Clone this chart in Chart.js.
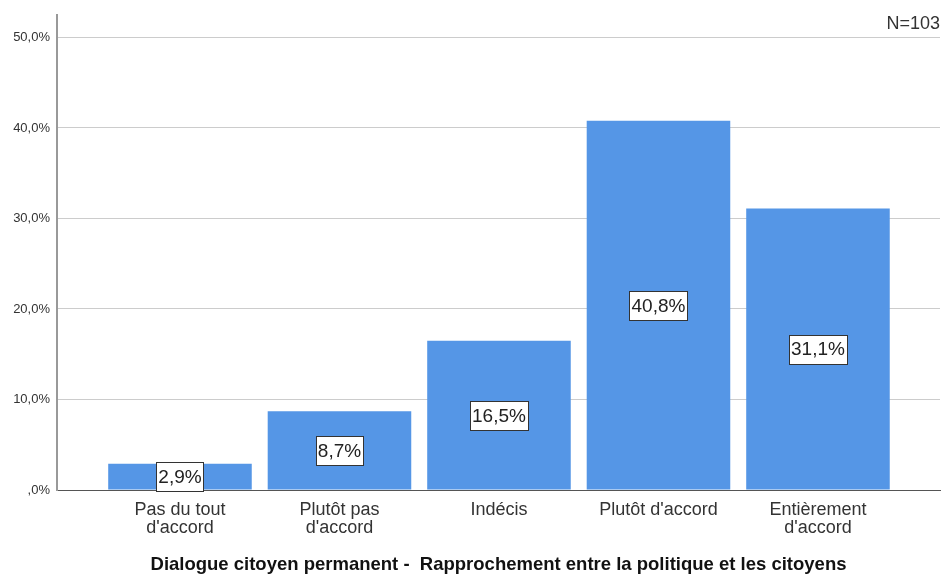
<!DOCTYPE html>
<html>
<head>
<meta charset="utf-8">
<script src="https://cdn.jsdelivr.net/npm/chart.js@4"></script>
<style>
  html, body { margin: 0; padding: 0; background: #fff; }
  #wrap { width: 944px; height: 576px; }
</style>
</head>
<body>
<div id="wrap"><canvas id="barChart" width="944" height="576"></canvas></div>
<script>
const categories = [
    ['Pas du tout', "d'accord"],
    ['Plutôt pas', "d'accord"],
    ['Indécis'],
    ["Plutôt d'accord"],
    ['Entièrement', "d'accord"]
];
const percents = [2.9, 8.7, 16.5, 40.8, 31.1];
const yTicks = [0, 10, 20, 30, 40, 50];
const sampleNote = 'N=103';
const axisTitle = 'Dialogue citoyen permanent -  Rapprochement entre la politique et les citoyens';

const FONT = 'Arial, "Liberation Sans", sans-serif';

const fmt = (v) => {
    const s = v.toFixed(1).replace('.', ',');
    return (s.startsWith('0,') ? s.slice(1) : s) + '%';
};

// boxed value labels in the middle of each bar + N note
const labelPlugin = {
    id: 'boxLabels',
    afterDatasetsDraw(chart) {
        const ctx = chart.ctx;
        const meta = chart.getDatasetMeta(0);
        const yScale = chart.scales.y;
        ctx.save();
        ctx.font = '19px ' + FONT;
        ctx.textAlign = 'center';
        ctx.textBaseline = 'middle';
        meta.data.forEach((bar, i) => {
            const text = fmt(percents[i]);
            const y = yScale.getPixelForValue(percents[i] / 2);
            const w = Math.round(ctx.measureText(text).width + 4);
            const h = 29;
            const bx = Math.round(bar.x - w / 2) + 0.5;
            const by = Math.round(y - h / 2) + 0.5;
            ctx.fillStyle = '#ffffff';
            ctx.fillRect(bx, by, w, h);
            ctx.strokeStyle = '#333333';
            ctx.lineWidth = 1;
            ctx.strokeRect(bx, by, w, h);
            ctx.fillStyle = '#222222';
            ctx.fillText(text, bar.x, y + 1);
        });
        ctx.font = '18px ' + FONT;
        ctx.textAlign = 'right';
        ctx.fillStyle = '#333333';
        ctx.fillText(sampleNote, chart.chartArea.right, 24);
        ctx.restore();
    }
};

new Chart(document.getElementById('barChart'), {
    type: 'bar',
    data: {
        datasets: [{
            data: percents.map((v, i) => ({ x: i, y: v })),
            backgroundColor: '#5596E6',
            borderWidth: 0,
            barPercentage: 0.9,
            categoryPercentage: 1.0
        }]
    },
    options: {
        responsive: false,
        animation: false,
        layout: { padding: { top: 12, right: 4, left: 0, bottom: 0 } },
        plugins: { legend: { display: false }, tooltip: { enabled: false } },
        scales: {
            x: {
                type: 'linear',
                offset: false,
                min: -0.771,
                max: 4.765,
                afterBuildTicks: (axis) => { axis.ticks = categories.map((c, i) => ({ value: i })); },
                afterFit: (axis) => { axis.height = 86; },
                grid: { display: false, drawTicks: false },
                border: { color: '#555555', width: 1 },
                ticks: {
                    autoSkip: false,
                    maxRotation: 0,
                    padding: 11,
                    color: '#333333',
                    font: { family: FONT, size: 18, lineHeight: 1.0 },
                    callback: (v) => categories[v] || ''
                },
                title: {
                    display: true,
                    text: axisTitle,
                    color: '#111111',
                    font: { family: FONT, size: 18.5, weight: 'bold' },
                    padding: { top: 0, bottom: 0 }
                }
            },
            y: {
                min: 0,
                max: 52.5,
                afterBuildTicks: (axis) => { axis.ticks = yTicks.map(v => ({ value: v })); },
                afterFit: (axis) => { axis.width = 57; },
                grid: { color: '#cccccc', lineWidth: 1, drawTicks: false },
                border: { color: '#999999', width: 2 },
                ticks: {
                    padding: 7,
                    color: '#333333',
                    font: { family: FONT, size: 13 },
                    callback: (v) => fmt(v)
                }
            }
        }
    },
    plugins: [labelPlugin]
});
</script>
</body>
</html>
